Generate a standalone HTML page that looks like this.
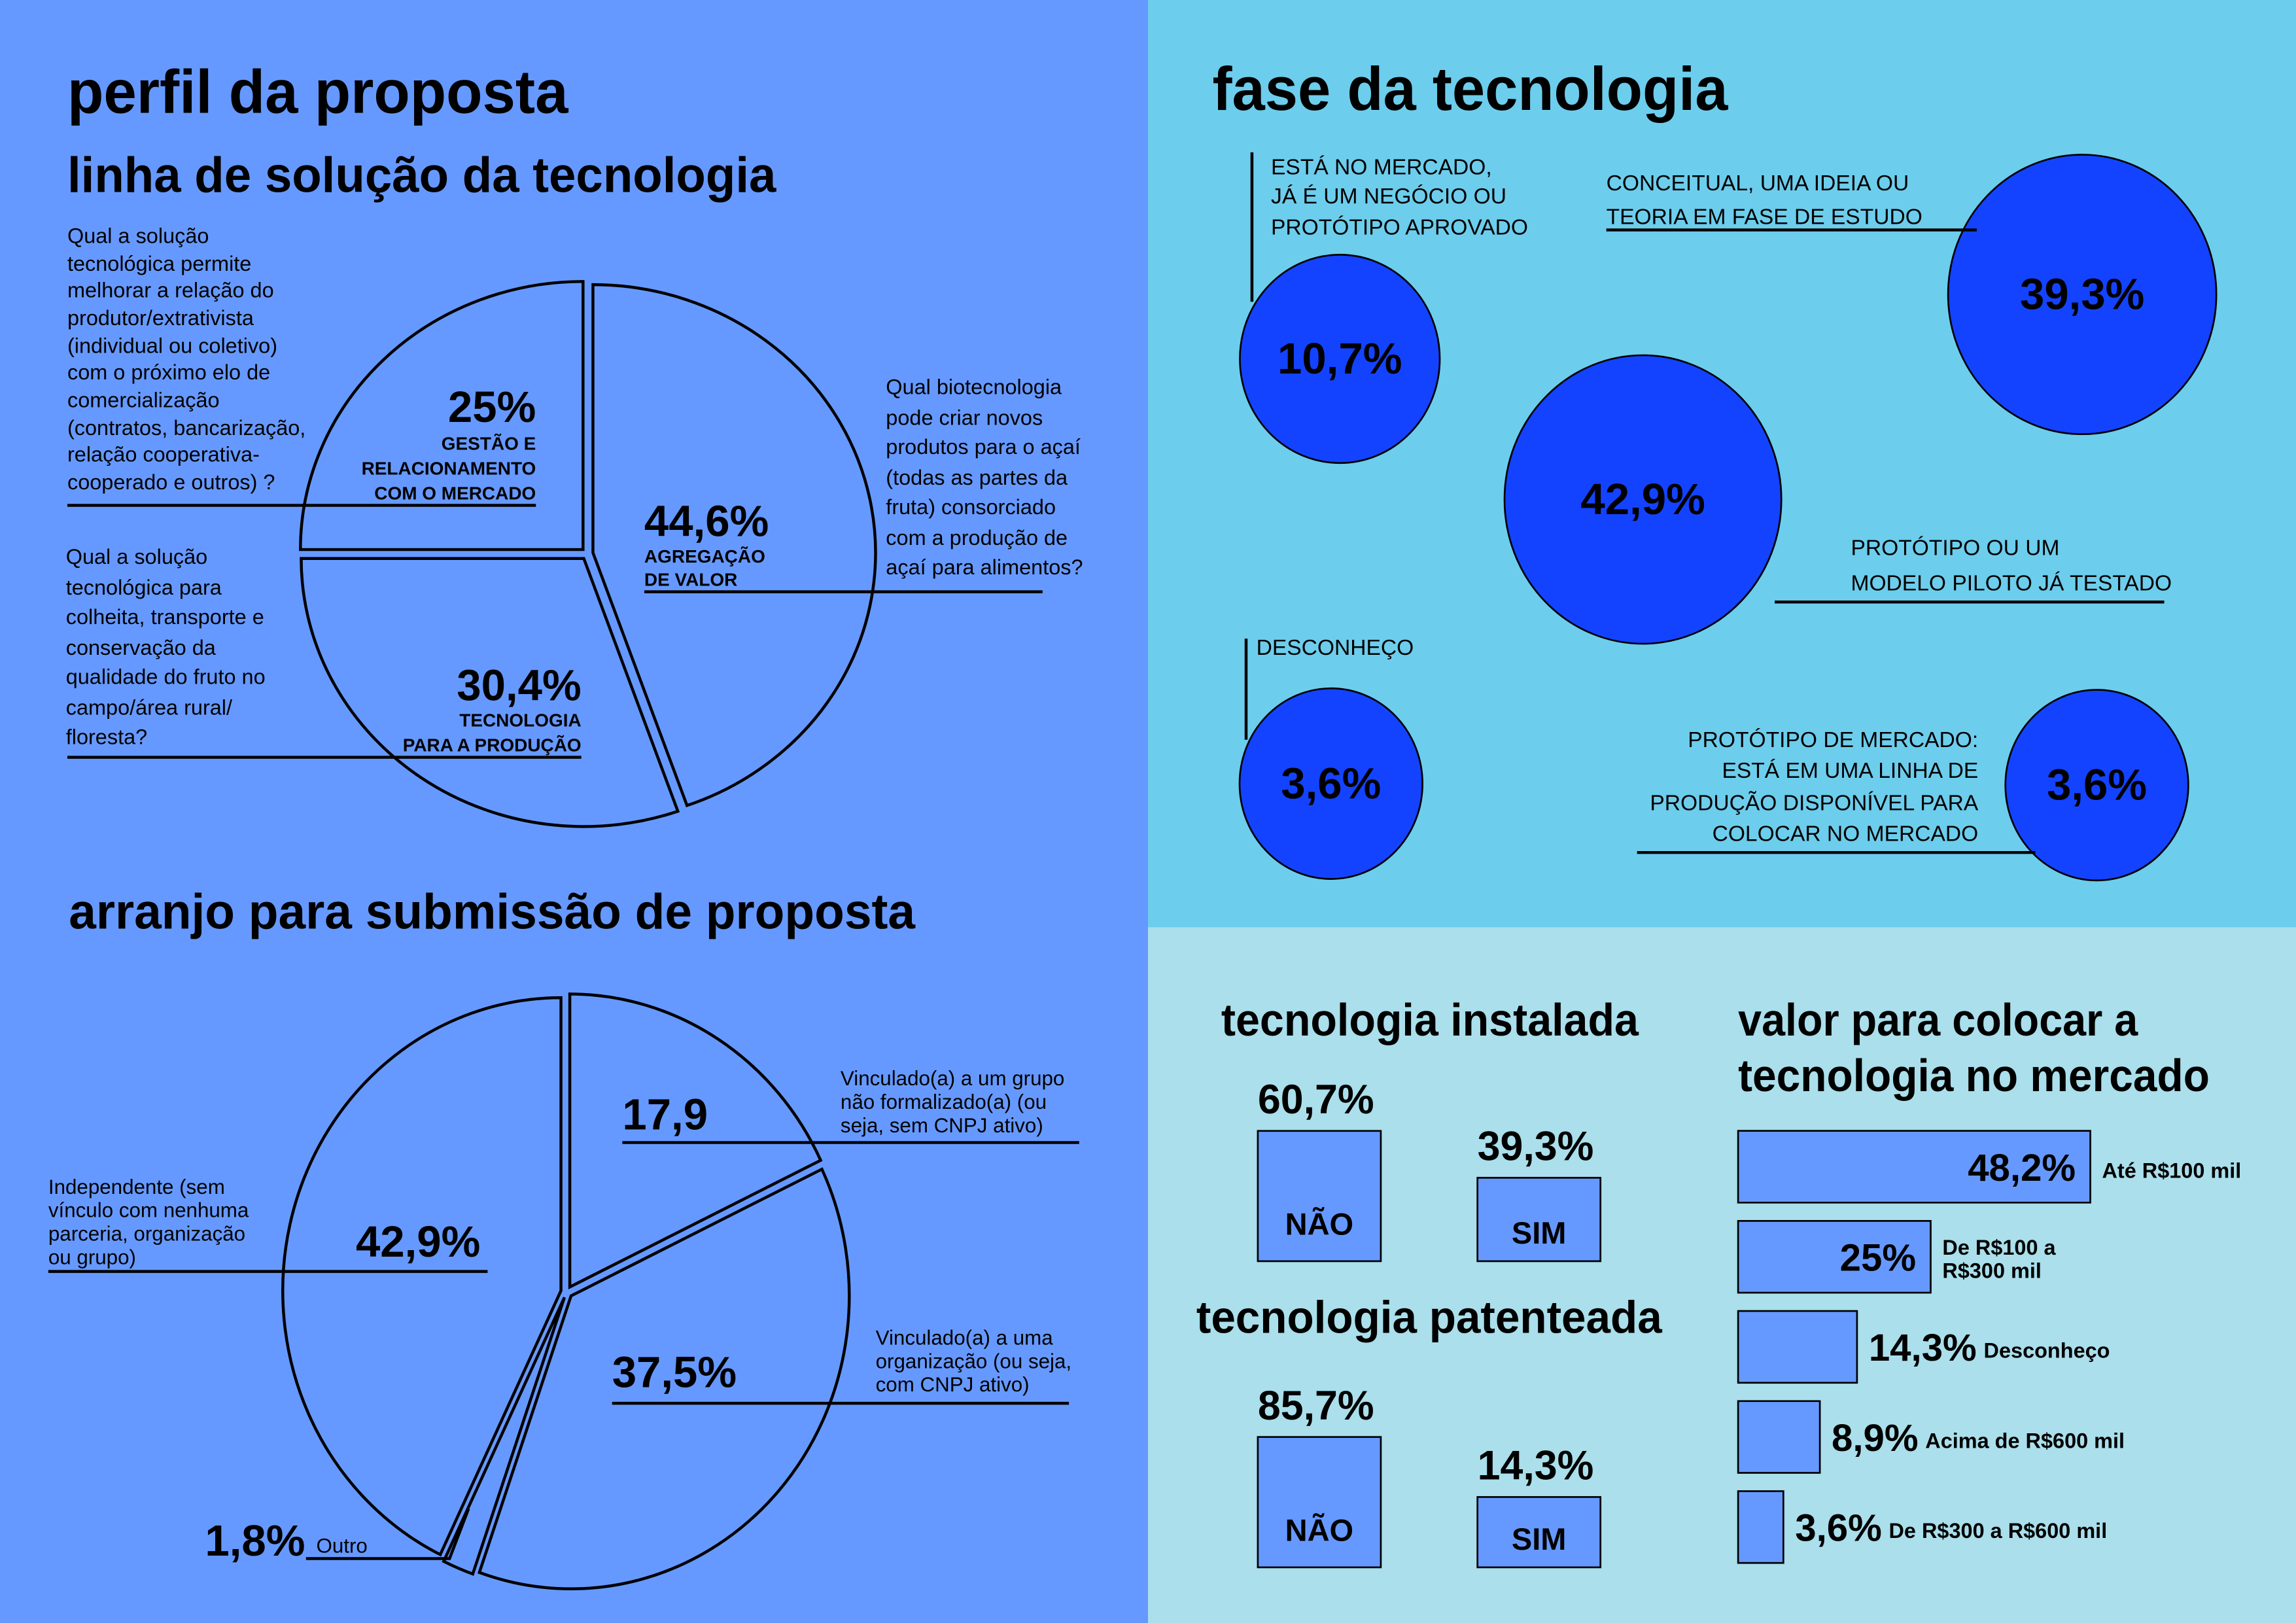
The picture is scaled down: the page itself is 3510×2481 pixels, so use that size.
<!DOCTYPE html>
<html><head><meta charset="utf-8">
<style>
html,body{margin:0;padding:0;background:#6699ff;}
svg{display:block;}
text{font-family:"Liberation Sans Narrow","Liberation Sans",sans-serif;fill:#000;}
.t{font-weight:bold;}
.b{font-weight:bold;}
</style></head>
<body>
<svg id="root" width="3510" height="2481" viewBox="0 0 1568 1108" preserveAspectRatio="none" xmlns="http://www.w3.org/2000/svg">
<rect x="0" y="0" width="784" height="1108" fill="#6699ff"/>
<rect x="784" y="0" width="784" height="633" fill="#6dcdec"/>
<rect x="784" y="633" width="784" height="475" fill="#aadfeb"/>

<text class="t" x="46" y="77" font-size="42" textLength="342" lengthAdjust="spacingAndGlyphs">perfil da proposta</text>
<text class="t" x="46" y="131" font-size="34" textLength="484" lengthAdjust="spacingAndGlyphs">linha de solução da tecnologia</text>
<text class="t" x="47" y="634" font-size="34" textLength="578" lengthAdjust="spacingAndGlyphs">arranjo para submissão de proposta</text>
<text class="t" x="828" y="75" font-size="42" textLength="352" lengthAdjust="spacingAndGlyphs">fase da tecnologia</text>
<text class="t" x="834" y="707" font-size="31" textLength="285" lengthAdjust="spacingAndGlyphs">tecnologia instalada</text>
<text class="t" x="817" y="910" font-size="31" textLength="318" lengthAdjust="spacingAndGlyphs">tecnologia patenteada</text>
<text class="t" x="1187" y="707" font-size="31" textLength="273" lengthAdjust="spacingAndGlyphs">valor para colocar a</text>
<text class="t" x="1187" y="745" font-size="31" textLength="322" lengthAdjust="spacingAndGlyphs">tecnologia no mercado</text>

<g id="pie1"></g>
<g id="pie2"></g>
<g id="bubbles"></g>
<g id="inst"></g>
<g id="pat"></g>
<g id="val"></g>

<g font-size="14.5">
<text x="46" font-size="14.5">
<tspan x="46" y="166">Qual a solução</tspan><tspan x="46" y="185">tecnológica permite</tspan><tspan x="46" y="203">melhorar a relação do</tspan><tspan x="46" y="222">produtor/extrativista</tspan><tspan x="46" y="241">(individual ou coletivo)</tspan><tspan x="46" y="259">com o próximo elo de</tspan><tspan x="46" y="278">comercialização</tspan><tspan x="46" y="297">(contratos, bancarização,</tspan><tspan x="46" y="315">relação cooperativa-</tspan><tspan x="46" y="334">cooperado e outros) ?</tspan></text>
<line x1="46" y1="345" x2="366" y2="345" stroke="#000" stroke-width="2"/>
<text class="b" x="366" y="288" font-size="30" text-anchor="end">25%</text>
<text class="b" font-size="12.5" text-anchor="end"><tspan x="366" y="307">GESTÃO E</tspan><tspan x="366" y="324">RELACIONAMENTO</tspan><tspan x="366" y="341">COM O MERCADO</tspan></text>

<text font-size="14.5"><tspan x="45" y="385">Qual a solução</tspan><tspan x="45" y="406">tecnológica para</tspan><tspan x="45" y="426">colheita, transporte e</tspan><tspan x="45" y="447">conservação da</tspan><tspan x="45" y="467">qualidade do fruto no</tspan><tspan x="45" y="488">campo/área rural/</tspan><tspan x="45" y="508">floresta?</tspan></text>
<line x1="46" y1="517" x2="397" y2="517" stroke="#000" stroke-width="2"/>
<text class="b" x="397" y="478" font-size="30" text-anchor="end">30,4%</text>
<text class="b" font-size="12.5" text-anchor="end"><tspan x="397" y="496">TECNOLOGIA</tspan><tspan x="397" y="513">PARA A PRODUÇÃO</tspan></text>

<text font-size="14.5"><tspan x="605" y="269">Qual biotecnologia</tspan><tspan x="605" y="290">pode criar novos</tspan><tspan x="605" y="310">produtos para o açaí</tspan><tspan x="605" y="331">(todas as partes da</tspan><tspan x="605" y="351">fruta) consorciado</tspan><tspan x="605" y="372">com a produção de</tspan><tspan x="605" y="392">açaí para alimentos?</tspan></text>
<line x1="440" y1="404" x2="712" y2="404" stroke="#000" stroke-width="2"/>
<text class="b" x="440" y="366" font-size="30">44,6%</text>
<text class="b" font-size="12.5"><tspan x="440" y="384">AGREGAÇÃO</tspan><tspan x="440" y="400">DE VALOR</tspan></text>
</g>

<g>
<text class="b" x="425" y="771" font-size="30">17,9</text>
<line x1="425" y1="780" x2="737" y2="780" stroke="#000" stroke-width="2"/>
<text font-size="14"><tspan x="574" y="741">Vinculado(a) a um grupo</tspan><tspan x="574" y="757">não formalizado(a)  (ou</tspan><tspan x="574" y="773">seja, sem CNPJ ativo)</tspan></text>
<text class="b" x="243" y="858" font-size="30">42,9%</text>
<line x1="33" y1="868" x2="333" y2="868" stroke="#000" stroke-width="2"/>
<text font-size="14"><tspan x="33" y="815">Independente (sem</tspan><tspan x="33" y="831">vínculo com nenhuma</tspan><tspan x="33" y="847">parceria, organização</tspan><tspan x="33" y="863">ou grupo)</tspan></text>
<text class="b" x="418" y="947" font-size="30">37,5%</text>
<line x1="418" y1="958" x2="730" y2="958" stroke="#000" stroke-width="2"/>
<text font-size="14"><tspan x="598" y="918">Vinculado(a) a uma</tspan><tspan x="598" y="934">organização (ou seja,</tspan><tspan x="598" y="950">com CNPJ ativo)</tspan></text>
<text class="b" x="140" y="1062" font-size="30">1,8%</text>
<text x="216" y="1060" font-size="14">Outro</text>
<polyline points="209,1064 307,1064 320,1030" fill="none" stroke="#000" stroke-width="2"/>
</g>

<g font-size="15">
<line x1="855" y1="104" x2="855" y2="206" stroke="#000" stroke-width="2"/>
<text font-size="15"><tspan x="868" y="119">ESTÁ NO MERCADO,</tspan><tspan x="868" y="139">JÁ É UM NEGÓCIO OU</tspan><tspan x="868" y="160">PROTÓTIPO APROVADO</tspan></text>
<text font-size="15"><tspan x="1097" y="130">CONCEITUAL, UMA IDEIA OU</tspan><tspan x="1097" y="153">TEORIA EM FASE DE ESTUDO</tspan></text>
<line x1="1097" y1="157" x2="1350" y2="157" stroke="#000" stroke-width="2"/>
<text font-size="15"><tspan x="1264" y="379">PROTÓTIPO OU UM</tspan><tspan x="1264" y="403">MODELO PILOTO JÁ TESTADO</tspan></text>
<line x1="1212" y1="411" x2="1478" y2="411" stroke="#000" stroke-width="2"/>
<line x1="851" y1="436" x2="851" y2="505" stroke="#000" stroke-width="2"/>
<text x="858" y="447" font-size="15">DESCONHEÇO</text>
<text font-size="15" text-anchor="end"><tspan x="1351" y="510">PROTÓTIPO DE MERCADO:</tspan><tspan x="1351" y="531">ESTÁ EM UMA LINHA DE</tspan><tspan x="1351" y="553">PRODUÇÃO DISPONÍVEL PARA</tspan><tspan x="1351" y="574">COLOCAR NO MERCADO</tspan></text>
<line x1="1118" y1="582" x2="1390" y2="582" stroke="#000" stroke-width="2"/>
</g>
</svg>

<script>
const pie1Cats = ['Agregação de valor', 'Tecnologia para a produção', 'Gestão e relacionamento'];
const pie1Vals = [44.6, 30.4, 25];
const pie2Cats = ['Grupo não formalizado', 'Organização', 'Outro', 'Independente'];
const pie2Vals = [17.9, 37.5, 1.8, 42.9];
const phaseCats = ['Está no mercado', 'Conceitual', 'Protótipo piloto', 'Desconheço', 'Protótipo de mercado'];
const phaseVals = [10.7, 39.3, 42.9, 3.6, 3.6];
const phaseLabels = ['10,7%', '39,3%', '42,9%', '3,6%', '3,6%'];
const instCats = ['NÃO', 'SIM'];
const instVals = [60.7, 39.3];
const instLabels = ['60,7%', '39,3%'];
const patCats = ['NÃO', 'SIM'];
const patVals = [85.7, 14.3];
const patLabels = ['85,7%', '14,3%'];
const valCats = ['Até R$100 mil', 'De R$100 a|R$300 mil', 'Desconheço', 'Acima de R$600 mil', 'De R$300 a R$600 mil'];
const valVals = [48.2, 25, 14.3, 8.9, 3.6];
const valLabels = ['48,2%', '25%', '14,3%', '8,9%', '3,6%'];

const NS = 'http://www.w3.org/2000/svg';
function mk(tag, parent, attrs) {
  const e = document.createElementNS(NS, tag);
  for (const k in attrs) e.setAttribute(k, attrs[k]);
  parent.appendChild(e);
  return e;
}

function drawPie(gid, vals, cats, cx, cy, rx, ry, off) {
  const g = document.getElementById(gid);
  const total = vals.reduce((a, b) => a + b, 0);
  let acc = 0;
  vals.forEach((v, i) => {
    const a0 = acc / total * 2 * Math.PI;
    acc += v;
    const a1 = acc / total * 2 * Math.PI;
    const m = (a0 + a1) / 2;
    const ox = cx + off * Math.sin(m), oy = cy - off * Math.cos(m);
    const p = a => [ox + rx * Math.sin(a), oy - ry * Math.cos(a)];
    const s = p(a0), e = p(a1);
    const large = (a1 - a0) > Math.PI ? 1 : 0;
    const path = mk('path', g, {
      d: `M${ox},${oy} L${s[0]},${s[1]} A${rx},${ry} 0 ${large} 1 ${e[0]},${e[1]} Z`,
      fill: '#6699ff', stroke: '#000', 'stroke-width': 2
    });
    
    
  });
}
drawPie('pie1', pie1Vals, pie1Cats, 401, 378, 193, 183, 4);
drawPie('pie2', pie2Vals, pie2Cats, 387, 882, 190, 200, 4);

const bubbleCenters = [[915, 245], [1422, 201], [1122, 341], [909, 535], [1432, 536]];
const rScale = v => 62 + 0.85 * v;
const bg = document.getElementById('bubbles');
phaseVals.forEach((v, i) => {
  const r = rScale(v);
  const c = mk('ellipse', bg, { cx: bubbleCenters[i][0], cy: bubbleCenters[i][1], rx: r * 0.96, ry: r, fill: '#1443ff', stroke: '#000', 'stroke-width': 1.2 });
  
  
  const t = mk('text', bg, { x: bubbleCenters[i][0], y: bubbleCenters[i][1] + 10, 'font-size': 30, 'font-weight': 'bold', 'text-anchor': 'middle' });
  t.textContent = phaseLabels[i];
  
  
});

function drawCols(gid, vals, cats, labels, baseY, hScale, xs, catDy) {
  const g = document.getElementById(gid);
  vals.forEach((v, i) => {
    const h = hScale(v);
    const r = mk('rect', g, { x: xs[i], y: baseY - h, width: 84, height: h, fill: '#6699ff', stroke: '#000', 'stroke-width': 1.2 });
    
    
    const t = mk('text', g, { x: xs[i], y: baseY - h - 12, 'font-size': 28, 'font-weight': 'bold' });
    t.textContent = labels[i];
    
    
    const c = mk('text', g, { x: xs[i] + 42, y: baseY - catDy[i], 'font-size': 21, 'font-weight': 'bold', 'text-anchor': 'middle' });
    c.textContent = cats[i];
    
    
  });
}
drawCols('inst', instVals, instCats, instLabels, 861, v => 1.495 * v - 1.8, [859, 1009], [18, 12]);
drawCols('pat', patVals, patCats, patLabels, 1070, v => 39.8 + 0.574 * v, [859, 1009], [18, 12]);

const vg = document.getElementById('val');
const wScale = v => 4.7 * v + 14;
valVals.forEach((v, i) => {
  const y = 772 + i * 61.5;
  const w = wScale(v);
  const r = mk('rect', vg, { x: 1187, y: y, width: w, height: 49, fill: '#6699ff', stroke: '#000', 'stroke-width': 1.2 });
  
  
  const inside = v > 20;
  const t = mk('text', vg, { x: inside ? 1187 + w - 10 : 1187 + w + 8, y: y + 34, 'font-size': 26, 'font-weight': 'bold', 'text-anchor': inside ? 'end' : 'start' });
  t.textContent = valLabels[i];
  
  
  const lx = inside ? 1187 + w + 8 : 1187 + w + 8 + valLabels[i].length * 14.5 + 6;
  const parts = valCats[i].split('|');
  const c = mk('text', vg, { 'font-size': 14.5, 'font-weight': 'bold' });
  parts.forEach((p, k) => {
    const ts = mk('tspan', c, { x: lx, y: parts.length > 1 ? y + 23 + k * 16 : y + 32 });
    ts.textContent = p;
  });
  
  
});
</script>
</body></html>
